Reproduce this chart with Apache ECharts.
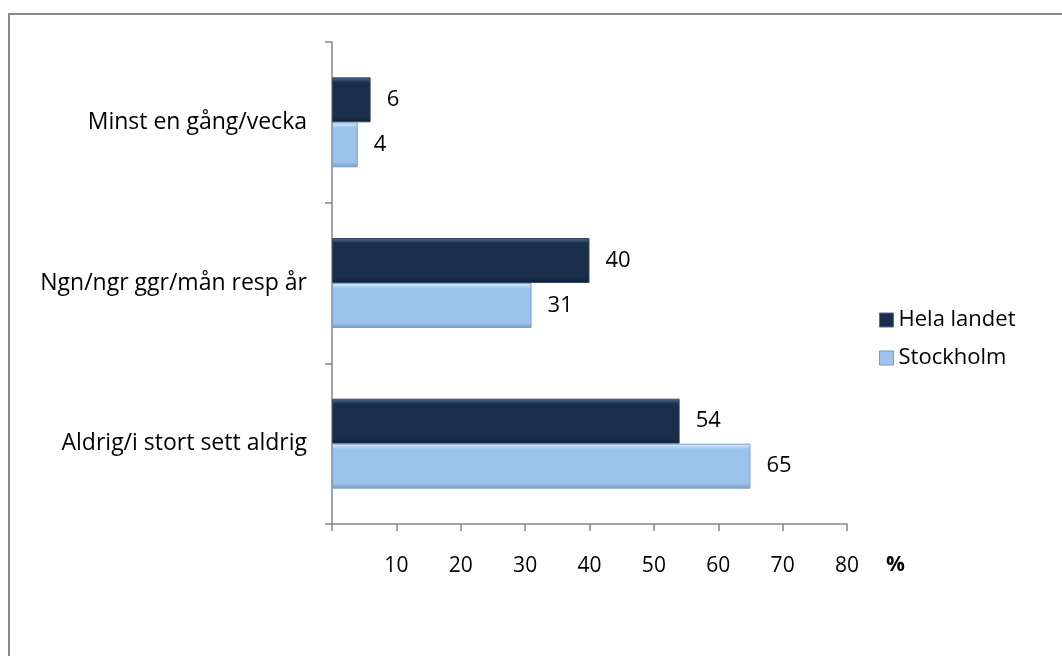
<!DOCTYPE html>
<html>
<head>
<meta charset="utf-8">
<script src="https://cdn.jsdelivr.net/npm/echarts@6/dist/echarts.min.js"></script>
<style>
  html, body { margin: 0; padding: 0; background: #fff; }
  #frame { position: absolute; left: 8px; top: 13px; width: 1100px; height: 700px;
           border-left: 2px solid #888; border-top: 2px solid #888; box-sizing: border-box; }
  #chart { position: absolute; left: 0; top: 0; width: 1062px; height: 656px; }
</style>
</head>
<body>
<div id="frame"></div>
<div id="chart"></div>
<script>
// Response categories, top to bottom
const categories = ['Minst en gång/vecka', 'Ngn/ngr ggr/mån resp år', 'Aldrig/i stort sett aldrig'];
// Share of respondents (%)
const helaLandet = [6, 40, 54];
const stockholm = [4, 31, 65];
const seriesNames = ['Hela landet', 'Stockholm'];
const xTicks = { min: 0, max: 80, interval: 10 };

const FONT = '"Open Sans", "Noto Sans", sans-serif';

// Vertical gradients give the bars a bevelled look
function bevel(edgeTop, body, edgeBottom) {
  return new echarts.graphic.LinearGradient(0, 0, 0, 1, [
    { offset: 0, color: edgeTop },
    { offset: 0.12, color: body },
    { offset: 0.88, color: body },
    { offset: 1, color: edgeBottom }
  ]);
}
const darkFill = bevel('#4f6d90', '#1a2e4b', '#0f1d33');
const lightFill = bevel('#dcefff', '#9dc3ec', '#7499c4');

const chart = echarts.init(document.getElementById('chart'), null, { renderer: 'canvas' });

const labelCfg = {
  show: true, position: 'right', distance: 16,
  color: '#000', fontSize: 22, fontFamily: FONT
};

chart.setOption({
  animation: false,
  grid: { left: 332, right: 215, top: 42, bottom: 132 },
  legend: {
    orient: 'vertical', left: 874, top: 304,
    itemWidth: 14, itemHeight: 14, itemGap: 16,
    data: [
      { name: seriesNames[0], icon: 'rect', itemStyle: { color: '#1a2e4b', borderColor: '#4f6d90', borderWidth: 1 } },
      { name: seriesNames[1], icon: 'rect', itemStyle: { color: '#9dc3ec', borderColor: '#7499c4', borderWidth: 1 } }
    ],
    textStyle: { fontSize: 22, fontFamily: FONT, color: '#000' }
  },
  xAxis: {
    type: 'value', min: xTicks.min, max: xTicks.max, interval: xTicks.interval,
    axisLine: { show: true, lineStyle: { color: '#868686', width: 1.5 } },
    axisTick: { show: true, length: 7, lineStyle: { color: '#868686', width: 1.5 } },
    splitLine: { show: false },
    axisLabel: {
      margin: 32, fontSize: 21, fontFamily: FONT, color: '#000',
      formatter: v => (v === 0 ? '' : String(v))
    }
  },
  yAxis: {
    type: 'category', data: categories, inverse: true,
    axisLine: { show: true, lineStyle: { color: '#868686', width: 1.5 } },
    axisTick: { show: true, length: 7, lineStyle: { color: '#868686', width: 1.5 } },
    axisLabel: { margin: 25, fontSize: 23, fontFamily: FONT, color: '#000' }
  },
  graphic: [
    { type: 'text', left: 886, top: 555,
      style: { text: '%', fontSize: 21, fontWeight: 'bold', fontFamily: FONT, fill: '#000' } }
  ],
  series: [
    {
      name: seriesNames[0], type: 'bar', data: helaLandet,
      barGap: '0%', barCategoryGap: '44%',
      itemStyle: { color: darkFill, borderColor: '#31496b', borderWidth: 1 },
      label: labelCfg
    },
    {
      name: seriesNames[1], type: 'bar', data: stockholm,
      barGap: '0%', barCategoryGap: '44%',
      itemStyle: { color: lightFill, borderColor: '#7f9fc6', borderWidth: 1 },
      label: labelCfg
    }
  ]
});
</script>
</body>
</html>
